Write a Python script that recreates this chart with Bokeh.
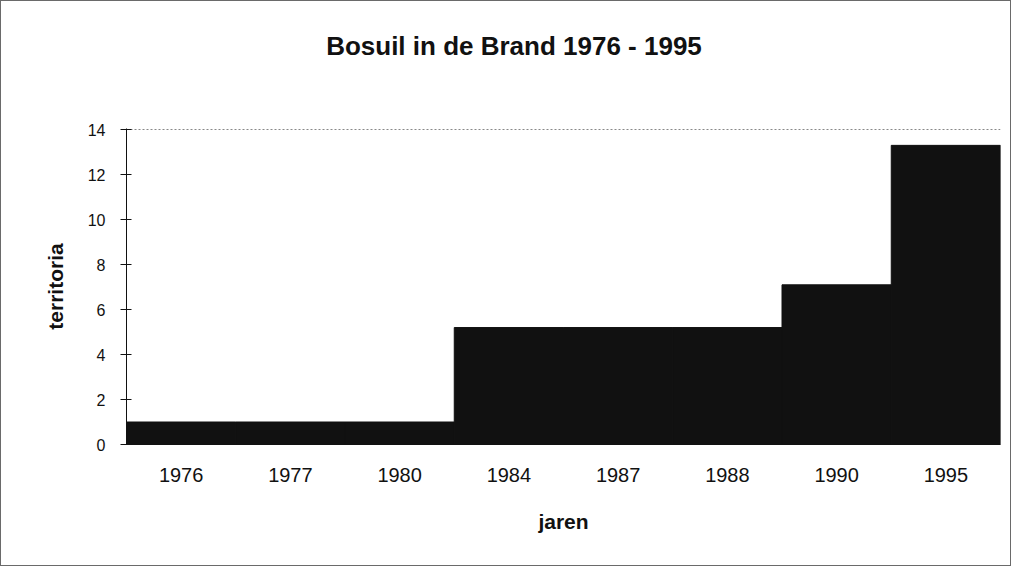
from bokeh.plotting import figure
from bokeh.layouts import column
from bokeh.models import FactorRange, Range1d, FixedTicker, ColumnDataSource, Div
from bokeh.embed import file_html
from bokeh.resources import INLINE

years = ["1976", "1977", "1980", "1984", "1987", "1988", "1990", "1995"]
territoria = [1.0, 1.0, 1.0, 5.2, 5.2, 5.2, 7.1, 13.3]
y_ticks = [0, 2, 4, 6, 8, 10, 12, 14]
title_text = "Bosuil in de Brand 1976 - 1995"

FONT = "Liberation Sans"
INK = "#111111"
EDGE = "1px solid #6a6a6a"

src = ColumnDataSource(dict(jaren=years, territoria=territoria))

title = Div(
    text=title_text, width=1011, height=80, margin=(0, 0, 0, 0),
    styles={
        "font-family": FONT, "font-weight": "bold", "font-size": "26px",
        "line-height": "30px", "text-align": "center", "color": INK,
        "padding-top": "30px", "padding-left": "17px",
        "box-sizing": "border-box", "background": "white",
        "border-top": EDGE, "border-left": EDGE, "border-right": EDGE,
    },
)

p = figure(
    width=1011, height=486,
    x_range=FactorRange(*years, range_padding=0),
    y_range=Range1d(0, 14.05),
    output_backend="svg", toolbar_location=None,
    min_border_left=125, min_border_right=12,
    min_border_top=48, min_border_bottom=122,
)
p.styles = {"border-left": EDGE, "border-right": EDGE, "border-bottom": EDGE,
            "box-sizing": "border-box"}

p.vbar(x="jaren", top="territoria", width=1.0, source=src,
       fill_color=INK, line_color=INK)

p.outline_line_color = None
p.background_fill_color = "white"
p.border_fill_color = "white"

p.xgrid.grid_line_color = None
p.ygrid.ticker = FixedTicker(ticks=[14])
p.ygrid.grid_line_color = "#888888"
p.ygrid.grid_line_dash = "2 2"
p.ygrid.grid_line_width = 1

# y axis
p.yaxis.ticker = FixedTicker(ticks=y_ticks)
p.yaxis.axis_label = "territoria"
p.yaxis.axis_label_text_font = FONT
p.yaxis.axis_label_text_font_style = "bold"
p.yaxis.axis_label_text_font_size = "21px"
p.yaxis.axis_label_text_color = INK
p.yaxis.axis_label_standoff = 18
p.yaxis.major_label_text_font = FONT
p.yaxis.major_label_text_font_size = "16px"
p.yaxis.major_label_text_color = INK
p.yaxis.major_label_standoff = 15
p.yaxis.major_tick_in = 5
p.yaxis.major_tick_out = 6
p.yaxis.minor_tick_line_color = None
p.yaxis.axis_line_color = INK
p.yaxis.major_tick_line_color = INK

# x axis
p.xaxis.axis_label = "jaren"
p.xaxis.axis_label_text_font = FONT
p.xaxis.axis_label_text_font_style = "bold"
p.xaxis.axis_label_text_font_size = "21px"
p.xaxis.axis_label_text_color = INK
p.xaxis.axis_label_standoff = 25
p.xaxis.major_label_text_font = FONT
p.xaxis.major_label_text_font_size = "20px"
p.xaxis.major_label_text_color = INK
p.xaxis.major_label_standoff = 23
p.xaxis.major_tick_in = 0
p.xaxis.major_tick_out = 0
p.xaxis.axis_line_color = INK

layout = column(title, p, spacing=0)
open("out.html", "w").write(file_html(layout, INLINE))
